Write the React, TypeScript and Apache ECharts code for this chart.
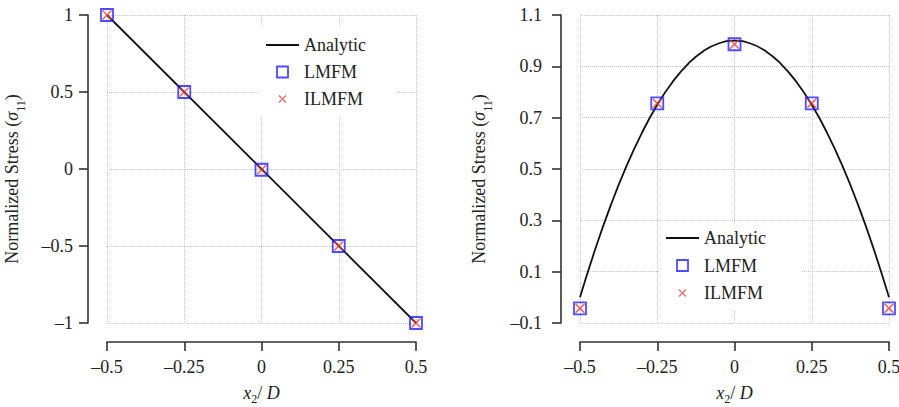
import React, { useEffect, useRef } from "react";
import * as echarts from "echarts";

// ---- data ----
const xTicks = [-0.5, -0.25, 0, 0.25, 0.5];
const xTickLabels = ["–0.5", "–0.25", "0", "0.25", "0.5"];
const yTickLabels1 = ["–1", "–0.5", "0", "0.5", "1"];
const yTickLabels2 = ["–0.1", "0.1", "0.3", "0.5", "0.7", "0.9", "1.1"];

const analyticX1 = [-0.5, 0.5];
const analyticY1 = [1, -1];
const lmfmY1 = [1, 0.5, -0.005, -0.5, -1];
const ilmfmY1 = [1, 0.5, -0.005, -0.5, -1];

const analyticX2 = [-0.5, -0.45, -0.4, -0.35, -0.3, -0.25, -0.2, -0.15, -0.1, -0.05, 0, 0.05, 0.1, 0.15, 0.2, 0.25, 0.3, 0.35, 0.4, 0.45, 0.5];
const analyticY2 = [0, 0.19, 0.36, 0.51, 0.64, 0.75, 0.84, 0.91, 0.96, 0.99, 1.0, 0.99, 0.96, 0.91, 0.84, 0.75, 0.64, 0.51, 0.36, 0.19, 0];
const lmfmY2 = [-0.043, 0.756, 0.986, 0.756, -0.043];
const ilmfmY2 = [-0.043, 0.756, 0.986, 0.756, -0.043];

const FONT = "Liberation Serif";
const TXT = "#222";
const AX = "#333";
const BLUE = "#2020ff";
const RED = "#e23b3b";
const XPATH = "path://M0,1.1L1.1,0L5,3.9L8.9,0L10,1.1L6.1,5L10,8.9L8.9,10L5,6.1L1.1,10L0,8.9L3.9,5Z";
const XPATH_LEGEND = "path://M-2,-2L-2,-2M12,12L12,12M0,1.1L1.1,0L5,3.9L8.9,0L10,1.1L6.1,5L10,8.9L8.9,10L5,6.1L1.1,10L0,8.9L3.9,5Z";
const LINE_LEGEND = "path://M0,0L33,0L33,1.8L0,1.8Z";
const SQUARE_LEGEND = "path://M0,0L10,0L10,10L0,10Z";

const zip = (xs: number[], ys: number[]) => xs.map((x, i) => [x, ys[i]]);

export default function App() {
  const ref = useRef<HTMLDivElement>(null);
  useEffect(() => {
    if (!ref.current) return;
    const chart = echarts.init(ref.current, undefined, { renderer: "svg" });

    const splitLine = { show: true, lineStyle: { color: "#c4c4c4", type: "dotted", width: 1 } };
    const axisLine = { show: true, onZero: false, lineStyle: { color: AX, width: 1.6 } };
    const axisTick = { show: true, length: 9, lineStyle: { color: AX, width: 1.6 } };

    const xAxisCommon = (gi: number) => ({
      type: "value",
      gridIndex: gi,
      min: -0.5,
      max: 0.5,
      interval: 0.25,
      offset: 19,
      axisLine,
      axisTick,
      splitLine,
      axisLabel: { fontFamily: FONT, fontSize: 18, color: TXT, margin: 16, formatter: (_v: number, i: number) => xTickLabels[i] },
      name: "{i|x}{s|2}{n|/ }{i|D}",
      nameLocation: "middle",
      nameGap: 42,
      nameTextStyle: {
        fontFamily: FONT,
        fontSize: 18,
        rich: {
          i: { fontFamily: FONT, fontSize: 18, fontStyle: "italic", color: TXT, lineHeight: 21, verticalAlign: "top" },
          n: { fontFamily: FONT, fontSize: 18, color: TXT, lineHeight: 21, verticalAlign: "top" },
          s: { fontFamily: FONT, fontSize: 12, color: TXT, lineHeight: 21, verticalAlign: "bottom" },
        },
      },
    });

    const yName = "{n|Normalized Stress (}{i|σ}{s|11}{n|)}";
    const yNameStyle = {
      fontFamily: FONT,
      fontSize: 18,
      padding: [0, 20, 0, 0],
      rich: {
        n: { fontFamily: FONT, fontSize: 18, color: TXT, lineHeight: 24, verticalAlign: "top" },
        i: { fontFamily: FONT, fontSize: 18, fontStyle: "italic", color: TXT, lineHeight: 24, verticalAlign: "top" },
        s: { fontFamily: FONT, fontSize: 12, color: TXT, lineHeight: 24, verticalAlign: "bottom" },
      },
    };

    const legendCommon = {
      orient: "vertical",
      itemWidth: 33,
      itemHeight: 11,
      itemGap: 9,
      backgroundColor: "#ffffff",
      textStyle: { fontFamily: FONT, fontSize: 18, color: TXT, lineHeight: 18 },
      data: [
        { name: "Analytic", icon: LINE_LEGEND, itemStyle: { color: "#111", borderWidth: 0 } },
        { name: "LMFM", icon: SQUARE_LEGEND, itemStyle: { color: "rgba(0,0,0,0)", borderColor: BLUE, borderWidth: 1.8 } },
        { name: "ILMFM", icon: XPATH_LEGEND, itemStyle: { color: RED, borderWidth: 0 } },
      ],
    };

    const option = {
      animation: false,
      backgroundColor: "#ffffff",
      grid: [
        { left: 107, top: 15, width: 309, height: 308, containLabel: false, outerBoundsMode: "none" },
        { left: 580, top: 15, width: 309, height: 308, containLabel: false, outerBoundsMode: "none" },
      ],
      xAxis: [xAxisCommon(0), xAxisCommon(1)],
      yAxis: [
        {
          type: "value",
          gridIndex: 0,
          min: -1,
          max: 1,
          interval: 0.5,
          offset: 19,
          axisLine,
          axisTick,
          splitLine,
          axisLabel: { fontFamily: FONT, fontSize: 18, color: TXT, margin: 15, formatter: (_v: number, i: number) => yTickLabels1[i] },
          name: yName,
          nameLocation: "middle",
          nameRotate: 90,
          nameGap: 61,
          nameTextStyle: yNameStyle,
        },
        {
          type: "value",
          gridIndex: 1,
          min: -0.1,
          max: 1.1,
          interval: 0.2,
          offset: 19,
          axisLine,
          axisTick,
          splitLine,
          axisLabel: { fontFamily: FONT, fontSize: 18, color: TXT, margin: 19, formatter: (_v: number, i: number) => yTickLabels2[i] },
          name: yName,
          nameLocation: "middle",
          nameRotate: 90,
          nameGap: 67,
          nameTextStyle: yNameStyle,
        },
      ],
      legend: [
        { ...legendCommon, left: 258, top: 27, padding: [9, 31, 9, 8] },
        { ...legendCommon, left: 660, top: 224, itemGap: 9.5, padding: [5, 36, 8, 6] },
      ],
      series: [
        {
          name: "Analytic",
          type: "line",
          xAxisIndex: 0,
          yAxisIndex: 0,
          data: zip(analyticX1, analyticY1),
          symbol: "none",
          lineStyle: { color: "#111", width: 1.8 },
          itemStyle: { color: "#111" },
          z: 2,
        },
        {
          name: "LMFM",
          type: "scatter",
          xAxisIndex: 0,
          yAxisIndex: 0,
          data: zip(xTicks, lmfmY1),
          symbol: "rect",
          symbolSize: 12,
          itemStyle: { color: "rgba(0,0,0,0)", borderColor: BLUE, borderWidth: 1.8 },
          z: 3,
        },
        {
          name: "ILMFM",
          type: "scatter",
          xAxisIndex: 0,
          yAxisIndex: 0,
          data: zip(xTicks, ilmfmY1),
          symbol: XPATH,
          symbolSize: 10,
          itemStyle: { color: RED },
          z: 4,
        },
        {
          name: "Analytic",
          type: "line",
          xAxisIndex: 1,
          yAxisIndex: 1,
          data: zip(analyticX2, analyticY2),
          symbol: "none",
          smooth: true,
          lineStyle: { color: "#111", width: 1.8 },
          itemStyle: { color: "#111" },
          z: 2,
        },
        {
          name: "LMFM",
          type: "scatter",
          xAxisIndex: 1,
          yAxisIndex: 1,
          data: zip(xTicks, lmfmY2),
          symbol: "rect",
          symbolSize: 12,
          itemStyle: { color: "rgba(0,0,0,0)", borderColor: BLUE, borderWidth: 1.8 },
          z: 3,
        },
        {
          name: "ILMFM",
          type: "scatter",
          xAxisIndex: 1,
          yAxisIndex: 1,
          data: zip(xTicks, ilmfmY2),
          symbol: XPATH,
          symbolSize: 10,
          itemStyle: { color: RED },
          z: 4,
        },
      ],
    };

    chart.setOption(option as any);
    return () => chart.dispose();
  }, []);

  return (
    <div
      ref={ref}
      style={{ position: "absolute", left: 0, top: 0, width: 899, height: 407 }}
    />
  );
}
